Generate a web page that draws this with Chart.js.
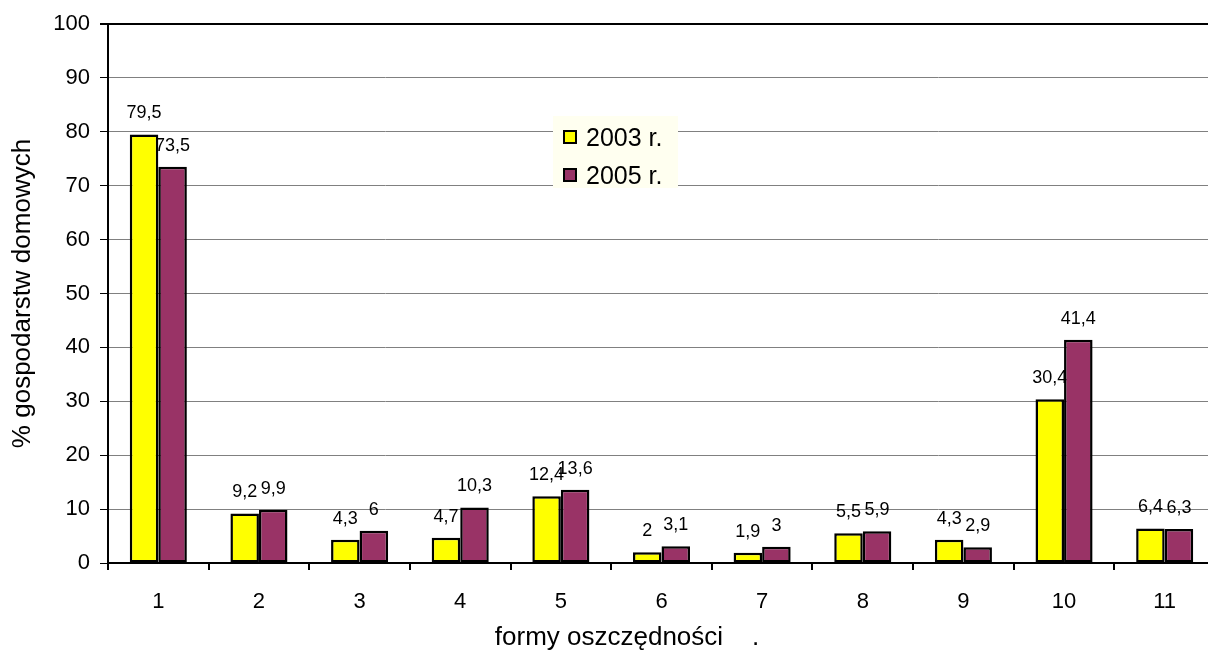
<!DOCTYPE html>
<html>
<head>
<meta charset="utf-8">
<script src="https://cdn.jsdelivr.net/npm/chart.js@4/dist/chart.umd.min.js"></script>
<style>
  html, body { margin: 0; padding: 0; background: #fff; overflow: hidden; }
  #wrap { position: relative; width: 1230px; height: 651px; }
  #legend {
    position: absolute; left: 553px; top: 116px; width: 125px; height: 72px;
    background: #FFFFF0; font: 25px "Liberation Sans", Arial, sans-serif; color: #000;
  }
  #legend .item { position: absolute; left: 10px; height: 30px; display: flex; align-items: center; }
  #legend .box { width: 10px; height: 10px; border: 2px solid #000; margin-right: 9px; }
</style>
</head>
<body>
<div id="wrap">
  <canvas id="savingsChart" width="1230" height="651"></canvas>
  <div id="legend"></div>
</div>
<script>
// forms of savings, share of households
const categories = ['1', '2', '3', '4', '5', '6', '7', '8', '9', '10', '11'];
const values2003 = [79.5, 9.2, 4.3, 4.7, 12.4, 2, 1.9, 5.5, 4.3, 30.4, 6.4];
const values2005 = [73.5, 9.9, 6, 10.3, 13.6, 3.1, 3, 5.9, 2.9, 41.4, 6.3];
const seriesNames = ['2003 r.', '2005 r.'];
const yTicks = [0, 10, 20, 30, 40, 50, 60, 70, 80, 90, 100];

const colors = ['#FFFF00', '#993366'];
const FONT = '"Liberation Sans", Arial, sans-serif';

// value labels sit under the bars, so a neighbouring bar may cover them
const valueLabels = {
    id: 'valueLabels',
    beforeDatasetsDraw(chart) {
        const ctx = chart.ctx;
        ctx.save();
        ctx.font = '18px ' + FONT;
        ctx.fillStyle = '#000';
        ctx.textAlign = 'center';
        ctx.textBaseline = 'middle';
        chart.data.datasets.forEach((ds, i) => {
            chart.getDatasetMeta(i).data.forEach((bar, j) => {
                const txt = String(ds.data[j]).replace('.', ',');
                ctx.fillText(txt, bar.x, bar.y - 21);
            });
        });
        ctx.restore();
    }
};

// x axis title
const xTitle = {
    id: 'xTitle',
    afterDraw(chart) {
        const ctx = chart.ctx;
        ctx.save();
        ctx.font = '26px ' + FONT;
        ctx.fillStyle = '#000';
        ctx.textAlign = 'center';
        ctx.textBaseline = 'middle';
        ctx.fillText('formy oszczędności    .', 627, 638);
        ctx.restore();
    }
};

const ctx = document.getElementById('savingsChart').getContext('2d');
const chart = new Chart(ctx, {
    type: 'bar',
    data: {
        labels: categories,
        datasets: [values2003, values2005].map((vals, i) => ({
            label: seriesNames[i],
            data: vals,
            backgroundColor: colors[i],
            borderColor: '#000',
            borderWidth: 2.5,
            borderSkipped: false,
            barPercentage: 1,
            categoryPercentage: 0.567
        }))
    },
    options: {
        responsive: false,
        animation: false,
        layout: { padding: { left: 7, top: 24, right: 15, bottom: 0 } },
        plugins: {
            legend: { display: false },
            tooltip: { enabled: false }
        },
        scales: {
            x: {
                afterFit(s) { s.height = 88; },
                grid: {
                    offset: true,
                    drawOnChartArea: false,
                    tickLength: 7,
                    lineWidth: 2,
                    color: '#000'
                },
                border: { color: '#000', width: 2 },
                ticks: { font: { family: FONT, size: 22 }, color: '#000', padding: 19 }
            },
            y: {
                min: 0,
                max: 100,
                afterFit(s) { s.width = 101; },
                afterBuildTicks(s) { s.ticks = yTicks.map(v => ({ value: v })); },
                grid: {
                    color: c => c.tick && c.tick.value === 100 ? '#000' : '#808080',
                    lineWidth: c => c.tick && c.tick.value === 100 ? 2 : 1,
                    tickColor: '#000',
                    tickLength: 8
                },
                border: { color: '#000', width: 2 },
                ticks: { font: { family: FONT, size: 22 }, color: '#000', padding: 10 },
                title: {
                    display: true,
                    text: '% gospodarstw domowych',
                    font: { family: FONT, size: 26 },
                    color: '#000',
                    padding: 0
                }
            }
        }
    },
    plugins: [valueLabels, xTitle]
});

// legend box inside the plot
const legend = document.getElementById('legend');
seriesNames.forEach((name, i) => {
    const item = document.createElement('div');
    item.className = 'item';
    item.style.top = (6 + i * 38) + 'px';
    item.innerHTML = '<span class="box" style="background:' + colors[i] + '"></span>' + name;
    legend.appendChild(item);
});
</script>
</body>
</html>
